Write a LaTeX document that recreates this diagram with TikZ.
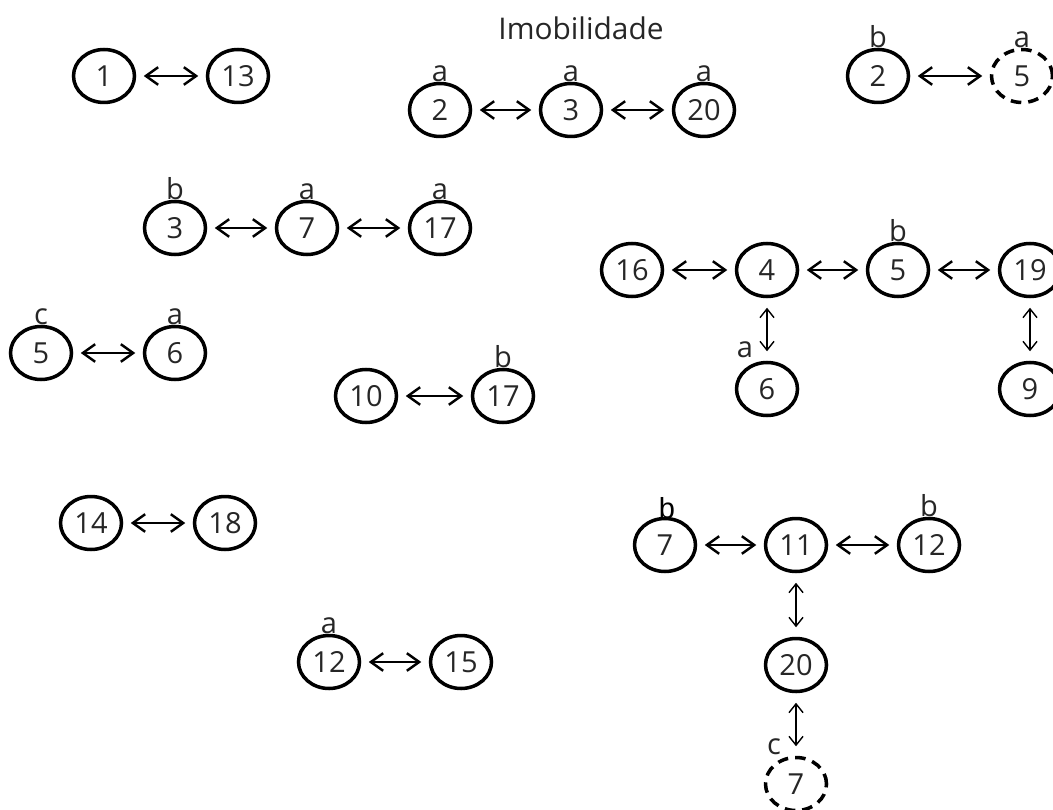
\documentclass[tikz,border=0pt]{standalone}
\usepackage{fontspec}
\setmainfont{Open Sans}
\newfontfamily\arialf{Liberation Sans}
\usetikzlibrary{shapes.geometric,arrows.meta}
\begin{document}
\begin{tikzpicture}[x=0.02cm,y=-0.02cm,
 nd/.style={ellipse,draw=black,line width=2pt,minimum width=1.22cm,minimum height=1.06cm,inner sep=0pt,text=black!85,font=\fontsize{16.5}{18}\selectfont},
 dnd/.style={nd,dash pattern=on 6pt off 4pt},
 lab/.style={text=black!85,font=\fontsize{16.5}{18}\selectfont,inner sep=0pt},
 la/.style={label={[lab,label distance=0pt]above:#1}},
 harr/.style={{Straight Barb[length=7pt,width=10pt]}-{Straight Barb[length=7pt,width=10pt]},line width=1.4pt,shorten <=0.15cm,shorten >=0.15cm},
 varr/.style={{Straight Barb[length=5pt,width=8pt]}-{Straight Barb[length=5pt,width=8pt]},line width=0.8pt,shorten <=0.19cm,shorten >=0.19cm}
]
\useasboundingbox (0,0) rectangle (1053,810);

\node[lab,font=\fontsize{17}{19}\selectfont] (title) at (581,28) {Imobilidade};

% group 1
\node[nd] (n1) at (104,76) {1};
\node[nd] (n13) at (238,76) {13};
\draw[harr] (n1) -- (n13);

% group 2
\node[nd,la=a] (a2) at (440,110) {2};
\node[nd,la=a] (a3) at (571,110) {3};
\node[nd,la=a] (a20) at (704,110) {20};
\draw[harr] (a2) -- (a3);
\draw[harr] (a3) -- (a20);

% group 3
\node[nd,la=b] (b2) at (878,76) {2};
\node[dnd,la=a] (b5) at (1022,76) {5};
\draw[harr] (b2) -- (b5);

% group 4
\node[nd,la=b] (c3) at (175,228) {3};
\node[nd,la=a] (c7) at (307,228) {7};
\node[nd,la=a] (c17) at (440,228) {17};
\draw[harr] (c3) -- (c7);
\draw[harr] (c7) -- (c17);

% group 5
\node[nd] (d16) at (632,270) {16};
\node[nd] (d4) at (767,270) {4};
\node[nd,la=b] (d5) at (898,270) {5};
\node[nd] (d19) at (1030,270) {19};
\node[nd] (d6) at (767,389) {6};
\node[nd] (d9) at (1030,389) {9};
\node[lab] (d6a) at (745,350) {a};
\draw[harr] (d16) -- (d4);
\draw[harr] (d4) -- (d5);
\draw[harr] (d5) -- (d19);
\draw[varr] (d4) -- (d6);
\draw[varr] (d19) -- (d9);

% group 6
\node[nd,la=c] (e5) at (41,353) {5};
\node[nd,la=a] (e6) at (175,353) {6};
\draw[harr] (e5) -- (e6);

% group 7
\node[nd] (f10) at (366,396) {10};
\node[nd,la=b] (f17) at (503,396) {17};
\draw[harr] (f10) -- (f17);

% group 8
\node[nd] (g14) at (91,523) {14};
\node[nd] (g18) at (225,523) {18};
\draw[harr] (g14) -- (g18);

% group 9
\node[nd,la=a] (h12) at (329,662) {12};
\node[nd] (h15) at (461,662) {15};
\draw[harr] (h12) -- (h15);

% group 10
\node[nd] (i7) at (665,545) {7};
\node[nd] (i11) at (796,545) {11};
\node[nd,la=b] (i12) at (929,545) {12};
\node[nd] (i20) at (796,665) {20};
\node[dnd] (i7b) at (796,784) {7};
\node[inner sep=0pt,font=\arialf\fontsize{16.5}{18}\selectfont] (i7lab) at (667,508) {b};
\node[lab] (i7bc) at (774,747) {c};
\draw[harr] (i7) -- (i11);
\draw[harr] (i11) -- (i12);
\draw[varr] (i11) -- (i20);
\draw[varr] (i20) -- (i7b);
\end{tikzpicture}
\end{document}
